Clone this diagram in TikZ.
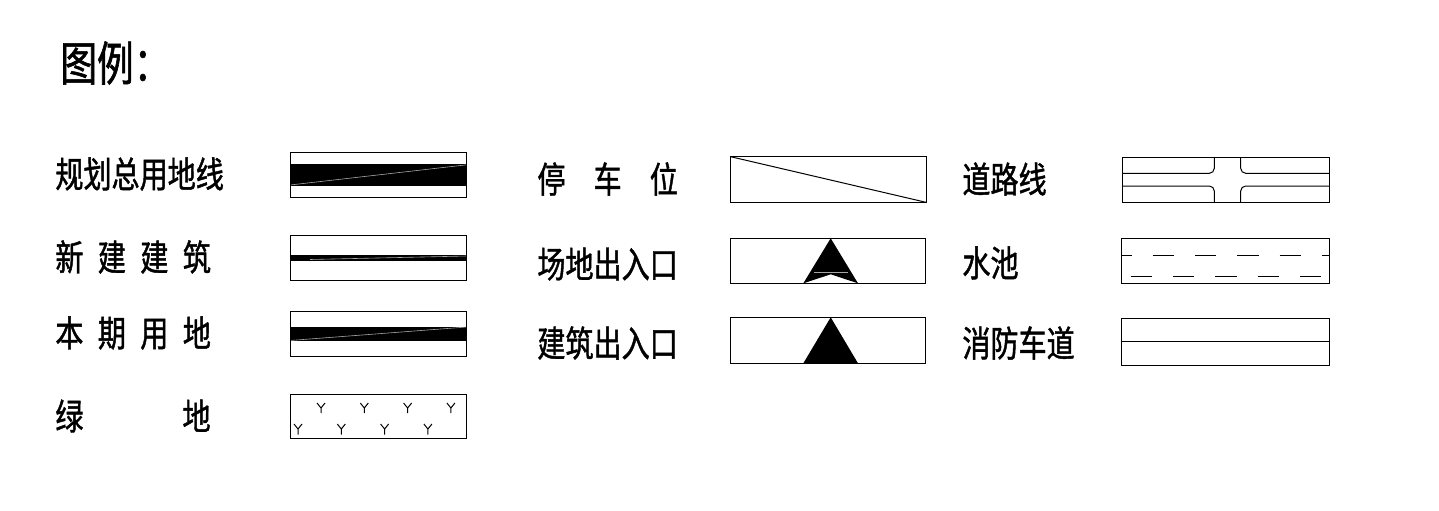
\documentclass[tikz,border=0pt]{standalone}
\usepackage{fontspec}
\newfontfamily\cjk[FakeStretch=0.78,FakeBold=1.2]{Noto Sans CJK SC}
\begin{document}
\begin{tikzpicture}[x=0.5pt, y=-0.5pt, lbl/.style={anchor=west,inner sep=0pt,font=\cjk\fontsize{18pt}{21pt}\selectfont}, ttl/.style={anchor=west,inner sep=0pt,font=\cjk\fontsize{23.5pt}{27pt}\selectfont}, frame/.style={draw,line width=0.5pt}, band/.style={fill=black}, seam/.style={draw=gray!70,line width=0.3pt}, ymark/.style={line width=0.5pt}]
    \useasboundingbox (0,0) rectangle (1439,510);
    \node [ttl] (title) at (60,63) {图例：};
%
    \node [lbl] (site) at (55,174) {规划总用地线};
    \node [lbl] (newbld) at (55,257) {新\hspace{7.2pt}建\hspace{7.2pt}建\hspace{7.2pt}筑};
    \node [lbl] (phase) at (55,333) {本\hspace{7.2pt}期\hspace{7.2pt}用\hspace{7.2pt}地};
    \node [lbl] (green) at (55,416) {绿\hspace{49.5pt}地};
%
    \node [lbl] (park) at (537,179) {停　车　位};
    \node [lbl] (siteent) at (537,264) {场地出入口};
    \node [lbl] (bldent) at (537,343) {建筑出入口};
%
    \node [lbl] (road) at (962,179) {道路线};
    \node [lbl] (pool) at (962,263) {水池};
    \node [lbl] (fire) at (962,343) {消防车道};
%
    \fill [band] (290,164.3) rectangle (466.7,185.7); \draw [seam] (290,185) -- (466.7,164.8);
    \draw [frame] (290,152.3) rectangle (466.7,197.7);
    \fill [band] (290,255) rectangle (466.7,260.7); \draw [seam] (310,259.5) -- (466.7,256);
    \draw [frame] (290,235.7) rectangle (466.7,280);
    \fill [band] (290,326.7) rectangle (466.7,340.7); \draw [seam] (290,340.5) -- (466.7,327);
    \draw [frame] (290,311.7) rectangle (466.7,356);
    \draw [frame] (290,394) rectangle (466.7,438.3);
    \draw [ymark] (317,403) -- (321,408) -- (325,403) (321,408) -- (321,413); \draw [ymark] (360.3,403) -- (364.3,408) -- (368.3,403) (364.3,408) -- (364.3,413);
    \draw [ymark] (403.6,403) -- (407.6,408) -- (411.6,403) (407.6,408) -- (407.6,413); \draw [ymark] (446.9,403) -- (450.9,408) -- (454.9,403) (450.9,408) -- (450.9,413);
    \draw [ymark] (294,424) -- (298,429) -- (302,424) (298,429) -- (298,434.5); \draw [ymark] (337.3,424) -- (341.3,429) -- (345.3,424) (341.3,429) -- (341.3,434.5);
    \draw [ymark] (380.6,424) -- (384.6,429) -- (388.6,424) (384.6,429) -- (384.6,434.5); \draw [ymark] (423.9,424) -- (427.9,429) -- (431.9,424) (427.9,429) -- (427.9,434.5);
%
    \draw [frame] (730.7,156.7) rectangle (926,202.3); \draw [frame] (730.7,156.7) -- (926,202.3);
    \fill [band] (830.7,238.3) -- (858,283.3) -- (830.7,274.3) -- (803.3,283.3) -- cycle; \draw [seam] (814,272) -- (847.5,272);
    \draw [frame] (730,238.3) rectangle (925,283.3);
    \fill [band] (830.7,317.3) -- (858,363.3) -- (803.3,363.3) -- cycle;
    \draw [frame] (730,317.3) rectangle (925,363.3);
%
    \draw [frame] (1122.3,157.3) rectangle (1329.3,202.3);
    \draw [frame, rounded corners=2.5pt] (1122.3,173.3) -| (1214.3,157.3); \draw [frame, rounded corners=2.5pt] (1329.3,173.3) -| (1240.7,157.3);
    \draw [frame, rounded corners=2.5pt] (1122.3,186) -| (1214.3,202.3); \draw [frame, rounded corners=2.5pt] (1329.3,186) -| (1240.7,202.3);
    \draw [frame] (1121.7,238.3) rectangle (1329.3,283.3);
    \draw [frame, dash pattern=on 10.65pt off 10.5pt, dash phase=5.65pt] (1121.7,255) -- (1329.3,255);
    \draw [frame, dash pattern=on 10.65pt off 10.5pt, dash phase=16.65pt] (1121.7,276.7) -- (1329.3,276.7);
    \draw [frame] (1121.7,318.3) rectangle (1329.3,365); \draw [frame] (1121.7,341.7) -- (1329.3,341.7);
\end{tikzpicture}
\end{document}
